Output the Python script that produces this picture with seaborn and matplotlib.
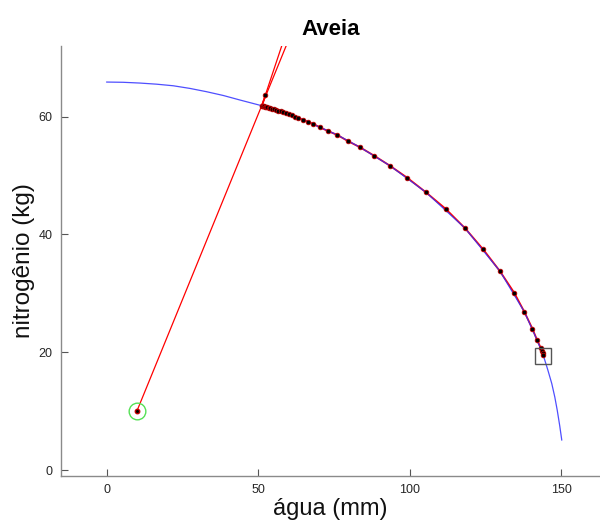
import numpy as np
import pandas as pd
import matplotlib
matplotlib.use("Agg")
import matplotlib.pyplot as plt
import seaborn as sns

# ---------------------------------------------------------------------------
# Data
# ---------------------------------------------------------------------------
# Pareto frontier (blue)
front_agua = [0, 5.5, 11, 16.5, 22, 27.5, 33, 38.5, 44, 51.2, 56.6, 62.0,
              66.3, 70.4, 76.1, 83.6, 93.4, 105.3, 118.2, 129.7, 137.8,
              142.0, 144.0, 145.5, 146.8, 147.8, 148.6, 149.4, 150.1]
front_nitro = [65.88, 65.84, 65.71, 65.52, 65.25, 64.80, 64.24, 63.60, 62.83,
               61.86, 61.04, 60.01, 59.15, 58.19, 56.90, 54.80, 51.69, 47.17,
               41.07, 33.78, 26.83, 22.03, 19.49, 17.0, 14.69, 12.4, 10.17,
               7.6, 5.08]

# Iterations of the search (red line + dots)
iter_agua = [52.4, 51.2, 51.4, 51.6, 51.9, 52.2, 52.6, 53.0, 53.5, 54.0, 54.6,
             55.2, 55.9, 56.6, 57.4, 58.2, 59.1, 60.0, 61.0, 62.0, 63.2, 64.7,
             66.3, 68.2, 70.4, 72.9, 76.1, 79.5, 83.6, 88.2, 93.4, 99.2,
             105.3, 111.8, 118.2, 124.2, 129.7, 134.4, 137.8, 140.4, 142.0,
             143.2, 143.5, 143.8, 144.0]
iter_nitro = [63.6, 61.86, 61.83, 61.81, 61.77, 61.73, 61.67, 61.61, 61.54,
              61.47, 61.37, 61.26, 61.15, 61.04, 60.90, 60.75, 60.58, 60.40,
              60.21, 60.01, 59.78, 59.49, 59.15, 58.76, 58.19, 57.58, 56.90,
              55.88, 54.80, 53.39, 51.69, 49.61, 47.17, 44.36, 41.07, 37.46,
              33.78, 30.12, 26.83, 24.02, 22.03, 20.73, 20.3, 19.9, 19.49]

# start point, projection lines, final point
start = (10, 10)
proj_agua = [10, 60.0]
proj_nitro = [10, 73.0]
dir_agua = [51.2, 58.4]
dir_nitro = [61.86, 73.0]
final = (144.0, 19.4)

front = pd.DataFrame({"agua": front_agua, "nitro": front_nitro})
iters = pd.DataFrame({"agua": iter_agua, "nitro": iter_nitro})

# ---------------------------------------------------------------------------
# Plot
# ---------------------------------------------------------------------------
sns.set_style("white", {"xtick.direction": "in", "ytick.direction": "in",
                        "xtick.bottom": True, "ytick.left": True})
plt.rcParams["font.family"] = ["Liberation Sans", "DejaVu Sans"]

fig = plt.figure(figsize=(6, 5.24), dpi=100)
ax = fig.add_axes([0.1017, 0.0916, 0.8983, 0.8206])

ax.plot(proj_agua, proj_nitro, color="red", linewidth=0.9)
ax.plot(dir_agua, dir_nitro, color="red", linewidth=0.9)
sns.lineplot(data=iters, x="agua", y="nitro", sort=False, estimator=None,
             color="red", linewidth=1.3, ax=ax)
sns.lineplot(data=front, x="agua", y="nitro", sort=False, estimator=None,
             color="#3030ff", linewidth=0.9, alpha=0.85, ax=ax)
sns.scatterplot(data=iters, x="agua", y="nitro", color="black",
                edgecolor="#c00000", s=11, linewidth=0.6, zorder=5, ax=ax)

ax.plot(*start, marker="o", markersize=12, markerfacecolor="none",
        markeredgecolor="#55e055", markeredgewidth=1.0, zorder=6)
ax.plot(*start, marker="o", markersize=3.2, color="black",
        markeredgecolor="#c00000", zorder=7)
ax.plot(*final, marker="s", markersize=11, markerfacecolor="none",
        markeredgecolor="#555555", markeredgewidth=1.0, zorder=6)

ax.set_xlim(-15, 162.7)
ax.set_ylim(-1, 72)
ax.set_xticks([0, 50, 100, 150])
ax.set_yticks([0, 20, 40, 60])
ax.tick_params(axis="both", direction="in", length=5, width=0.8,
               color="#555555", labelsize=9, labelcolor="#262626", pad=6,
               bottom=True, left=True)

for side in ["top", "right"]:
    ax.spines[side].set_visible(False)
for side in ["left", "bottom"]:
    ax.spines[side].set_color("#8a8a8a")
    ax.spines[side].set_linewidth(1.0)

ax.set_xlabel("água (mm)", fontsize=17, color="#111111", labelpad=1)
ax.set_ylabel("nitrogênio (kg)", fontsize=17.5, color="#111111", labelpad=3)
ax.set_title("Aveia", fontsize=16, fontweight="bold", color="black", pad=8)

fig.savefig("out.png", dpi=100)
